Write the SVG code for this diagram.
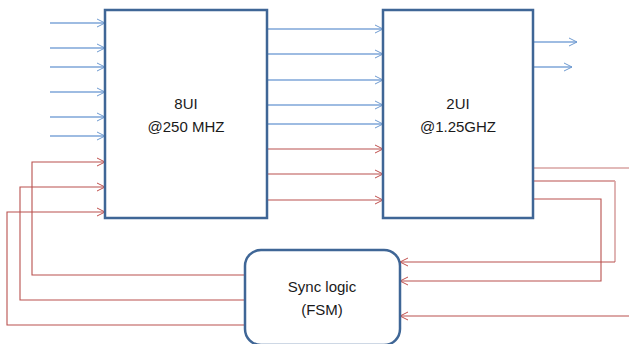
<svg xmlns="http://www.w3.org/2000/svg" width="629" height="344" viewBox="0 0 629 344">
<defs>
<marker id="ab" markerWidth="10" markerHeight="10" refX="9" refY="5" orient="auto" markerUnits="userSpaceOnUse"><path d="M1,1 L9,5 L1,9" fill="none" stroke="#6f9bd1" stroke-width="1"/></marker>
<marker id="ar" markerWidth="10" markerHeight="10" refX="9" refY="5" orient="auto" markerUnits="userSpaceOnUse"><path d="M1,1 L9,5 L1,9" fill="none" stroke="#c0504d" stroke-width="1"/></marker>
</defs>
<style>
.box{fill:#fff;stroke:#3f6696;stroke-width:2.5}
.b{fill:none;stroke:#7ea6d8;stroke-width:1.3;marker-end:url(#ab)}
.r{fill:none;stroke:#b9504e;stroke-width:1.1}
.ra{fill:none;stroke:#b9504e;stroke-width:1.1;marker-end:url(#ar)}
.rl{fill:none;stroke:#d9a3a2;stroke-width:1.6}
text{font-family:"Liberation Sans",Arial,sans-serif;font-size:15px;fill:#1a1a1a;text-anchor:middle}
</style>
<g id="connectors">
<line class="b" x1="50" y1="23" x2="105" y2="23"/>
<line class="b" x1="50" y1="48" x2="105" y2="48"/>
<line class="b" x1="50" y1="67" x2="105" y2="67"/>
<line class="b" x1="50" y1="92" x2="105" y2="92"/>
<line class="b" x1="50" y1="117" x2="105" y2="117"/>
<line class="b" x1="50" y1="136" x2="105" y2="136"/>
<line class="b" x1="267" y1="29" x2="383" y2="29"/>
<line class="b" x1="267" y1="54" x2="383" y2="54"/>
<line class="b" x1="267" y1="80" x2="383" y2="80"/>
<line class="b" x1="267" y1="105" x2="383" y2="105"/>
<line class="b" x1="267" y1="124" x2="383" y2="124"/>
<line class="ra" x1="267" y1="149" x2="383" y2="149"/>
<line class="ra" x1="267" y1="174" x2="383" y2="174"/>
<line class="ra" x1="267" y1="200" x2="383" y2="200"/>
<line class="b" x1="533" y1="42" x2="577" y2="42"/>
<line class="b" x1="533" y1="67" x2="572" y2="67"/>
<polyline class="ra" points="245,275 32,275 32,162 105,162"/>
<polyline class="ra" points="245,300 20,300 20,187 105,187"/>
<polyline class="ra" points="245,325 7,325 7,212 105,212"/>
<line class="rl" x1="533" y1="168" x2="629" y2="168"/>
<polyline class="r" points="533,181 615,181"/>
<polyline class="rl" points="615,181 615,262"/>
<polyline class="ra" points="615,262 400,262"/>
<polyline class="ra" points="533,199 601,199 601,281 400,281"/>
<line class="ra" x1="629" y1="316" x2="400" y2="316"/>
</g>
<g id="node-8ui">
<rect class="box" x="105" y="10" width="162" height="208"/>
<text x="186" y="109">8UI</text>
<text x="186" y="132">@250 MHZ</text>
</g>
<g id="node-2ui">
<rect class="box" x="383" y="10" width="150" height="208"/>
<text x="458" y="109">2UI</text>
<text x="458" y="132">@1.25GHZ</text>
</g>
<g id="node-sync">
<rect class="box" x="245" y="250" width="155" height="95" rx="16" ry="16"/>
<text x="322" y="292">Sync logic</text>
<text x="322" y="315">(FSM)</text>
</g>
</svg>
